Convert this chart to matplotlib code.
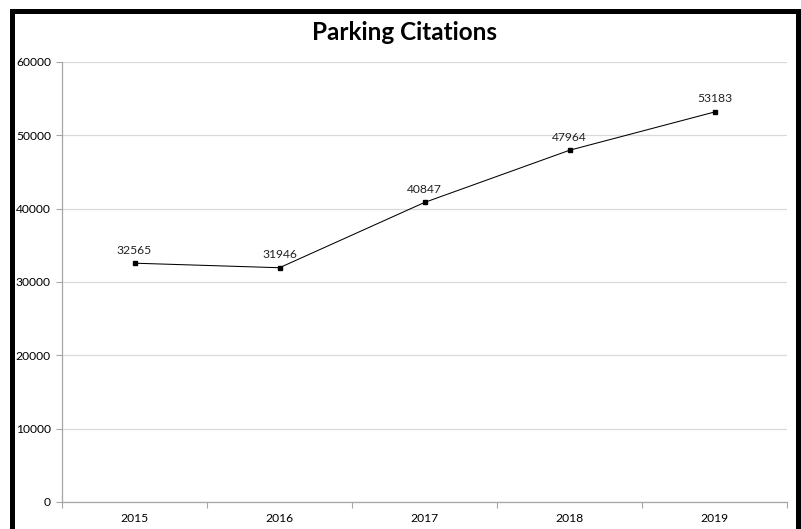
import matplotlib
matplotlib.use("Agg")
import matplotlib.pyplot as plt
from matplotlib.patches import Rectangle

years = ["2015", "2016", "2017", "2018", "2019"]
citations = [32565, 31946, 40847, 47964, 53183]
yticks = [0, 10000, 20000, 30000, 40000, 50000, 60000]

plt.rcParams['font.family'] = ['Lato', 'DejaVu Sans']

W, H = 801, 529
fig = plt.figure(figsize=(W / 100, H / 100), dpi=100)
ax = fig.add_axes([62 / W, 1 - 502 / H, (787 - 62) / W, (502 - 62) / H])

x = list(range(len(years)))
ax.plot(x, citations, color='black', lw=0.75, marker='s', markersize=3.2, zorder=3)
for xi, v in zip(x, citations):
    ax.annotate(str(v), (xi, v), xytext=(0, 5.5), textcoords='offset points',
                ha='center', va='bottom', fontsize=8.7, color='#222222')

ax.set_xlim(-0.5, len(years) - 0.5)
ax.set_ylim(0, 60000)
ax.set_yticks(yticks)
ax.set_yticklabels([str(t) for t in yticks], fontsize=8.7)
ax.set_xticks(x)
ax.set_xticklabels(years, fontsize=8.7)
ax.set_xticks([i - 0.5 for i in range(len(years) + 1)], minor=True)
ax.tick_params(axis='x', which='major', length=0, pad=8)
ax.tick_params(axis='x', which='minor', length=4, color='#a6a6a6', width=0.8)
ax.tick_params(axis='y', length=4, color='#a6a6a6', width=0.8, pad=4)
ax.yaxis.grid(True, color='#d9d9d9', lw=0.9)
ax.set_axisbelow(True)
for s in ['top', 'right']:
    ax.spines[s].set_visible(False)
for s in ['left', 'bottom']:
    ax.spines[s].set_color('#a6a6a6')
    ax.spines[s].set_linewidth(0.9)

fig.text(405 / W, 1 - 33 / H, "Parking Citations", ha='center', va='center',
         fontsize=17.5, fontweight='bold')

# thick black frame around the chart (bottom edge cropped off)
fig.patches.append(Rectangle((11.5 / W, -0.05), (797.5 - 11.5) / W, 1 - 10.5 / H + 0.05,
                             transform=fig.transFigure, fill=False,
                             edgecolor='black', lw=3.6))

fig.savefig("out.png", dpi=100)
